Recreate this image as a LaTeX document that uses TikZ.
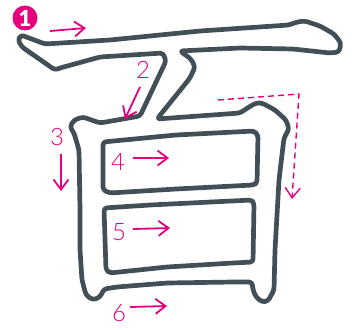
\documentclass[tikz,border=0pt]{standalone}
\usepackage{fontspec}
\newfontfamily\numfont{Lato Light}
\newfontfamily\boldnum{Lato Black}
\usetikzlibrary{arrows.meta}
\definecolor{dark}{RGB}{67,79,87}
\definecolor{kpink}{RGB}{230,0,126}
\tikzset{
  outline/.style={draw=dark, line width=4.7pt, line join=round, rounded corners=3pt},
  arr/.style={draw=kpink, line width=1.8pt, -{Straight Barb[length=10pt,width=15pt,line width=1.8pt]}},
  dasharr/.style={draw=kpink, line width=1.4pt, dash pattern=on 6pt off 4pt, -{Straight Barb[length=10pt,width=15pt,line width=1.4pt]}},
  num/.style={text=kpink, font=\numfont\fontsize{24}{24}\selectfont, inner sep=0pt},
}
\begin{document}
\begin{tikzpicture}[x=1pt,y=-1pt]
\useasboundingbox (0,0) rectangle (352,329);
% outer outline of the character
\draw[outline] (21,35) -- (45,44) -- (110,40) -- (200,31) -- (289,25) -- (297,22) -- (305,21)
  -- (320,26) -- (334,34) -- (341,43) -- (339,52) -- (330,53) -- (293,49) -- (240,48)
  -- (180,51) -- (191,59) -- (195,67) -- (190,78) -- (157,119) -- (240,113) -- (249,107)
  -- (256,103) -- (262,103) -- (275,110) -- (286,120) -- (289,129) -- (284,138) -- (279,180)
  -- (275,250) -- (274,290) -- (268,301) -- (262,302) -- (256,297) -- (253,290) -- (252,282)
  -- (233,282) -- (167,283) -- (117,287) -- (104,289) -- (100,297) -- (93,300) -- (86,295)
  -- (82,280) -- (80,250) -- (80,210) -- (79,150) -- (74,133) -- (70,127) -- (74,120)
  -- (83,117) -- (100,123) -- (140,116) -- (166,61) -- (163,53) -- (100,57) -- (60,68)
  -- (55,70) -- (45,63) -- (22,47) -- (18,40) -- cycle;
% upper inner hole
\draw[outline] (103,142) -- (176,135) -- (254,131) -- (258,135) -- (257,183) -- (253,185)
  -- (176,189) -- (110,193) -- (103,190) -- cycle;
% lower inner hole
\draw[outline] (104,208) -- (150,205) -- (252,200) -- (254,204) -- (253,262) -- (233,263)
  -- (167,267) -- (110,273) -- (106,270) -- cycle;
% stroke 1
\node[circle, fill=kpink, minimum size=25pt, inner sep=0pt, text=white,
  font=\boldnum\fontsize{22}{22}\selectfont] (c1) at (25,18) {1};
\coordinate (a1s) at (50,31); \coordinate (a1e) at (86,28);
\draw[arr] (a1s) -- (a1e);
% stroke 2
\node[num] (n2) at (143,70) {2};
\coordinate (a2s) at (140,87); \coordinate (a2e) at (125,119);
\draw[arr] (a2s) -- (a2e);
% stroke 3
\node[num] (n3) at (57,137) {3};
\coordinate (a3s) at (61,154); \coordinate (a3e) at (61,191);
\draw[arr] (a3s) -- (a3e);
% stroke 4
\node[num] (n4) at (118,162) {4};
\coordinate (a4s) at (133,158); \coordinate (a4e) at (169,158);
\draw[arr] (a4s) -- (a4e);
% stroke 5
\node[num] (n5) at (119,232) {5};
\coordinate (a5s) at (133,229); \coordinate (a5e) at (170,228);
\draw[arr] (a5s) -- (a5e);
% stroke 6
\node[num] (n6) at (119,313) {6};
\coordinate (a6s) at (130,307); \coordinate (a6e) at (167,306);
\draw[arr] (a6s) -- (a6e);
% dashed guide
\coordinate (d1) at (218,100); \coordinate (d2) at (299,94); \coordinate (d3) at (292,199);
\draw[dasharr] (d1) -- (d2) -- (d3);
\end{tikzpicture}
\end{document}
